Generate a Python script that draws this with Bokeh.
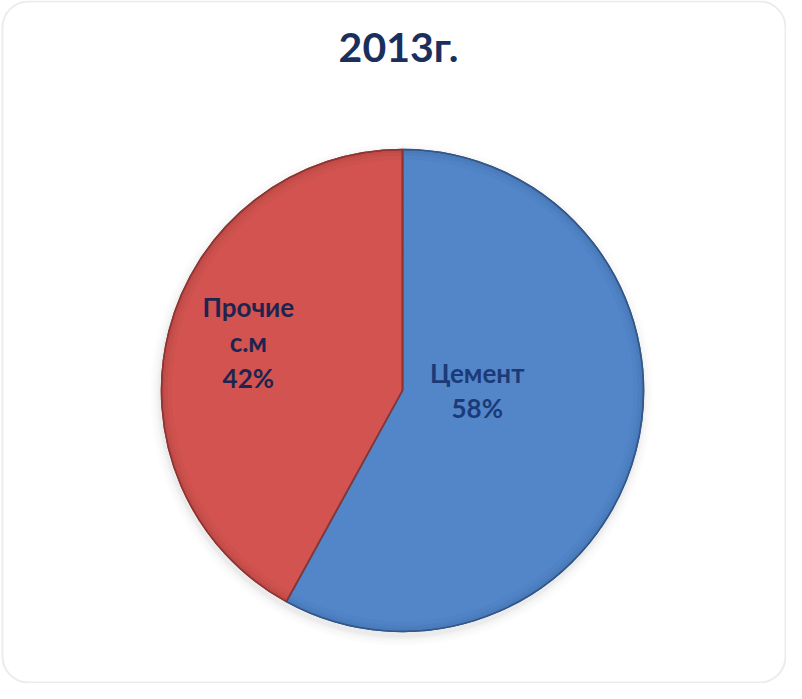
import numpy as np
from bokeh.plotting import figure
from bokeh.models import Range1d, BoxAnnotation, ColumnDataSource
from bokeh.core.properties import value
from bokeh.embed import file_html
from bokeh.resources import INLINE

# ---- data ----
title_text = "2013г."
categories = ["Цемент", "Прочие\nс.м"]
shares = [58, 42]
colors = ["#5286C9", "#D2534F"]
edge_colors = ["#34578A", "#8E3532"]
label_colors = ["#1C3A78", "#1E2450"]

W, H = 786, 683
p = figure(width=W, height=H, output_backend="svg", toolbar_location=None,
           x_range=Range1d(0, W), y_range=Range1d(0, H), min_border=0)
p.axis.visible = False
p.grid.visible = False
p.outline_line_color = None
p.background_fill_color = "white"
p.border_fill_color = "white"

# rounded frame
frame = BoxAnnotation(left=2, right=785, top=682, bottom=1, fill_color=None,
                      line_color="#BCC0C7", line_width=2, border_radius=26)
p.add_layout(frame)

cx, cy, R = 402, 293, 241

# soft shadow
for k, a in [(10, 0.025), (7, 0.035), (4, 0.05), (2, 0.06)]:
    p.circle(x=[cx - 1], y=[cy - 4], radius=R + k, fill_color="#808080",
             fill_alpha=a, line_color=None)

# wedges: start at 12 o'clock, clockwise
fr = np.array(shares, dtype=float) / sum(shares)
ends_cum = np.cumsum(fr)
starts_cum = ends_cum - fr
start_ang = np.pi / 2 - ends_cum * 2 * np.pi
end_ang = np.pi / 2 - starts_cum * 2 * np.pi

src = ColumnDataSource(dict(start=start_ang, end=end_ang, color=colors, edge=edge_colors))
p.wedge(x=cx, y=cy, radius=R, start_angle="start", end_angle="end",
        fill_color="color", line_color="edge", line_width=1.5, source=src)

# bevel shading near rim
for w, a in [(10, 0.06), (6, 0.08), (3, 0.12)]:
    p.annular_wedge(x=cx, y=cy, inner_radius=R - w, outer_radius=R,
                    start_angle="start", end_angle="end", fill_color="edge",
                    fill_alpha=a, line_color=None, source=src)
p.wedge(x=cx, y=cy, radius=R, start_angle="start", end_angle="end",
        fill_color=None, line_color="edge", line_width=1.5, source=src)

# labels (layout: polar position of each label block)
label_angle_deg = [0.0, 162.7]
label_rfrac = [0.31, 0.67]
lx, ly, ltxt = [], [], []
for i in range(len(shares)):
    a = np.deg2rad(label_angle_deg[i])
    lx.append(cx + label_rfrac[i] * R * np.cos(a))
    ly.append(cy + label_rfrac[i] * R * np.sin(a))
    ltxt.append(f"{categories[i]}\n{shares[i]}%")
lsrc = ColumnDataSource(dict(x=lx, y=ly, t=ltxt, c=label_colors))
p.text(x="x", y="y", text="t", text_color="c", source=lsrc,
       text_align="center", text_baseline="middle", text_font=value("Lato"),
       text_font_style="bold", text_font_size="26px", text_line_height=1.1)

# title
p.text(x=[W / 2 + 5], y=[H - 46], text=[title_text], text_align="center",
       text_baseline="middle", text_font=value("Lato"), text_font_style="bold",
       text_font_size="41px", text_color="#1B2F5E")

open("out.html", "w").write(file_html(p, INLINE))
